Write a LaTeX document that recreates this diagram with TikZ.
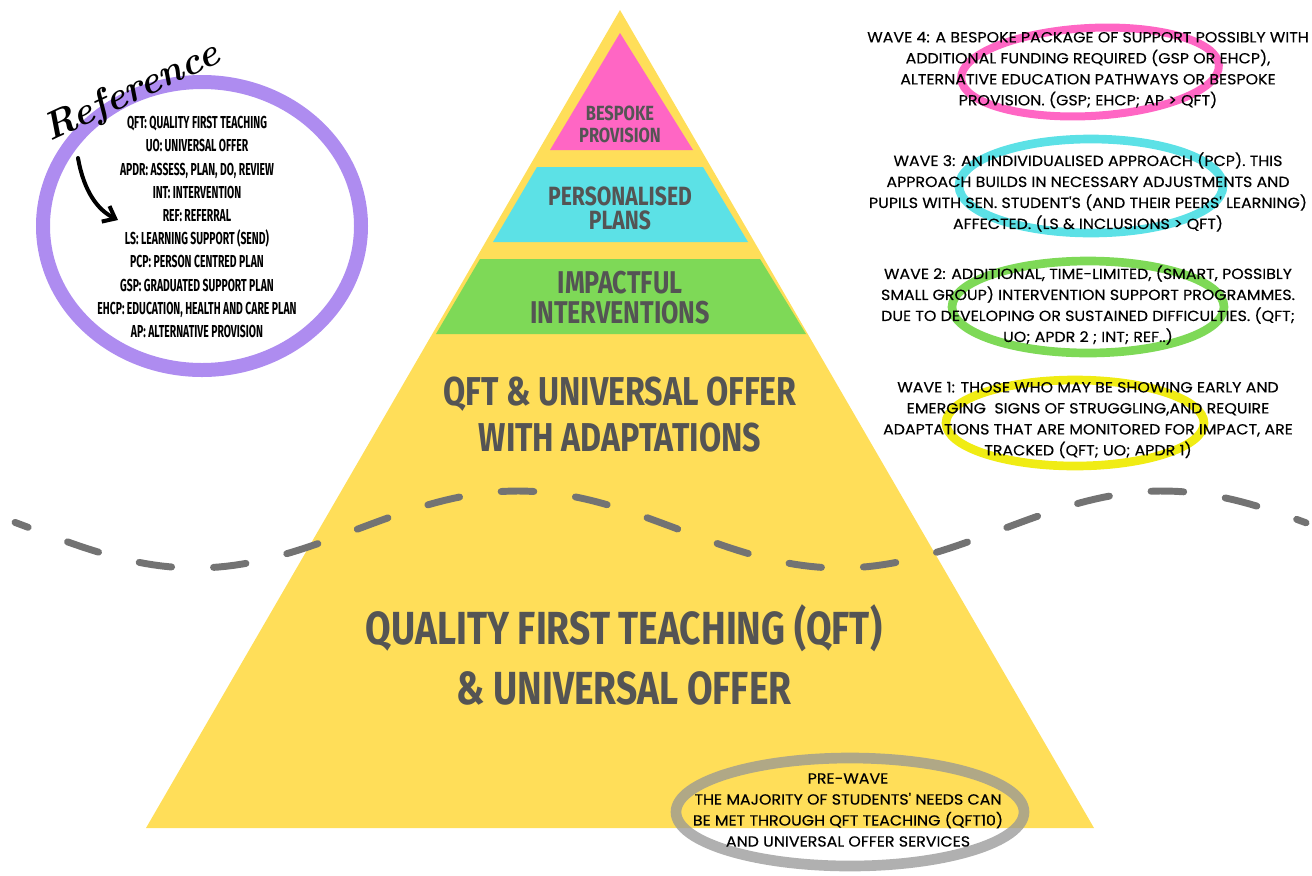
\documentclass[tikz,border=0pt]{standalone}
\usepackage{fontspec}
\usepackage{tikz}
\usetikzlibrary{arrows.meta}
\newfontfamily\pyrfont{Fira Sans}[FakeStretch=0.8]
\newfontfamily\listfont{Fira Sans}[FakeStretch=0.6]
\newfontfamily\wavefont{Poppins}[FakeStretch=1.08,FakeBold=0.3]
\definecolor{pyryellow}{RGB}{255,222,89}
\definecolor{pyrpink}{RGB}{255,102,196}
\definecolor{pyrcyan}{RGB}{92,225,230}
\definecolor{pyrgreen}{RGB}{126,217,87}
\definecolor{pyrgray}{RGB}{84,84,84}
\definecolor{dashgray}{RGB}{115,115,115}
\definecolor{ringpurple}{RGB}{174,140,240}
\definecolor{ringyellow}{RGB}{240,236,20}
\definecolor{ringgray}{RGB}{150,150,150}
\tikzset{
  pyrtext/.style={text=pyrgray, align=center, inner sep=0.75pt},
  wavetext/.style={align=center, inner sep=0.75pt, font=\wavefont\fontsize{11}{15.75}\selectfont},
  listtext/.style={align=center, inner sep=0.75pt, font=\listfont\bfseries\fontsize{13}{17.4}\selectfont},
}

\begin{document}
\begin{tikzpicture}[x=0.75pt,y=0.75pt,yscale=-1,xscale=1]
\path[use as bounding box] (0,0) rectangle (1312,875);

%Shape: Ellipse [reference ring]
\draw [color=ringpurple, line width=10.5pt] (202,226) ellipse (159 and 144);
%Shape: Ellipse [wave 4]
\draw [color=pyrpink, line width=6pt, rotate around={-3:(1090,72)}] (1090,72) ellipse (129 and 44);
%Shape: Ellipse [wave 3]
\draw [color=pyrcyan, line width=6.5pt] (1091,186) ellipse (132 and 47);
%Shape: Ellipse [wave 2]
\draw [color=pyrgreen, line width=6.5pt] (1088,307) ellipse (136 and 46);
%Shape: Ellipse [wave 1]
\draw [color=ringyellow, line width=6.5pt] (1075,423) ellipse (129 and 43);

%Shape: Triangle [pyramid]
\draw [draw opacity=0, fill=pyryellow] (620,10) -- (1094,828) -- (146,828) -- cycle ;
%Shape: Triangle [top]
\draw [draw opacity=0, fill=pyrpink] (620,33) -- (693,150) -- (550,150) -- cycle ;
%Shape: Trapezoid [middle]
\draw [draw opacity=0, fill=pyrcyan] (537,167) -- (703,167) -- (748,242) -- (493,242) -- cycle ;
%Shape: Trapezoid [lower]
\draw [draw opacity=0, fill=pyrgreen] (480,259) -- (760,259) -- (806,334) -- (436,334) -- cycle ;

%Curve Lines [wave divider]
\draw [color=dashgray, line width=5.2pt, line cap=round, dash pattern=on 24.5pt off 31.5pt, dash phase=14pt]
  plot [domain=15:1306, samples=160] (\x, {529.5+38.5*sin(0.55814*(\x-34))}) ;

%Shape: Ellipse [pre-wave]
\draw [color=ringgray, opacity=0.75, line width=8pt] (850,812) ellipse (174 and 54);

%Curve Lines [reference arrow]
\coordinate (arrowtail) at (78,158);
\coordinate (arrowhead) at (118,220);
\draw [line width=3pt, line cap=round, -{Straight Barb[length=8pt,width=13pt]}] (arrowtail) .. controls (84,192) and (98,210) .. (arrowhead) ;

% Text Node
\draw (132,93) node (refword) [rotate=25, inner sep=0pt, font=\bfseries\itshape\fontsize{29}{29}\selectfont] {Reference};
% Text Node
\draw (197,227) node (abbrevs) [listtext] {QFT: QUALITY FIRST TEACHING\\UO: UNIVERSAL OFFER\\APDR: ASSESS, PLAN, DO, REVIEW\\INT: INTERVENTION\\REF: REFERRAL\\LS: LEARNING SUPPORT (SEND)\\PCP: PERSON CENTRED PLAN\\GSP: GRADUATED SUPPORT PLAN\\EHCP: EDUCATION, HEALTH AND CARE PLAN\\AP: ALTERNATIVE PROVISION};

% Text Node
\draw (620,124) node (bespoke) [pyrtext, font=\pyrfont\bfseries\fontsize{15.4}{16.5}\selectfont] {BESPOKE\\PROVISION};
% Text Node
\draw (620,208) node (personal) [pyrtext, font=\pyrfont\bfseries\fontsize{19.8}{18}\selectfont] {PERSONALISED\\PLANS};
% Text Node
\draw (620,298) node (impact) [pyrtext, font=\pyrfont\bfseries\fontsize{23.6}{22.5}\selectfont] {IMPACTFUL\\INTERVENTIONS};
% Text Node
\draw (620,415) node (adapt) [pyrtext, font=\pyrfont\bfseries\fontsize{30.2}{34.5}\selectfont] {QFT \& UNIVERSAL OFFER\\WITH ADAPTATIONS};
% Text Node
\draw (624,655) node (qft) [pyrtext, font=\pyrfont\bfseries\fontsize{34.8}{45}\selectfont] {QUALITY FIRST TEACHING (QFT)\\\& UNIVERSAL OFFER};

% Text Node
\draw (1088,70) node (wavefour) [wavetext] {WAVE 4: A BESPOKE PACKAGE OF SUPPORT POSSIBLY WITH\\ADDITIONAL FUNDING REQUIRED (GSP OR EHCP),\\ALTERNATIVE EDUCATION PATHWAYS OR BESPOKE\\PROVISION. (GSP; EHCP; AP > QFT)};
% Text Node
\draw (1088,192) node (wavethree) [wavetext] {WAVE 3: AN INDIVIDUALISED APPROACH (PCP). THIS\\APPROACH BUILDS IN NECESSARY ADJUSTMENTS AND\\PUPILS WITH SEN. STUDENT'S (AND THEIR PEERS' LEARNING)\\AFFECTED. (LS \& INCLUSIONS > QFT)};
% Text Node
\draw (1088,305) node (wavetwo) [wavetext] {WAVE 2: ADDITIONAL, TIME-LIMITED, (SMART, POSSIBLY\\SMALL GROUP) INTERVENTION SUPPORT PROGRAMMES.\\DUE TO DEVELOPING OR SUSTAINED DIFFICULTIES. (QFT;\\UO; APDR 2 ; INT; REF..)};
% Text Node
\draw (1088,420) node (waveone) [wavetext] {WAVE 1: THOSE WHO MAY BE SHOWING EARLY AND\\EMERGING\ \ SIGNS OF STRUGGLING,AND REQUIRE\\ADAPTATIONS THAT ARE MONITORED FOR IMPACT, ARE\\TRACKED (QFT; UO; APDR 1)};
% Text Node
\draw (848,810) node (prewave) [wavetext] {PRE-WAVE\\THE MAJORITY OF STUDENTS' NEEDS CAN\\BE MET THROUGH QFT TEACHING (QFT10)\\AND UNIVERSAL OFFER SERVICES};

\end{tikzpicture}
\end{document}
